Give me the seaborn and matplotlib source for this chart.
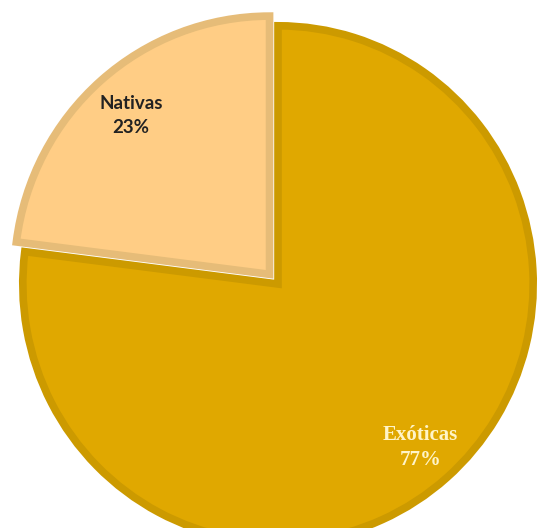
import matplotlib
matplotlib.use("Agg")
import matplotlib.pyplot as plt
import numpy as np
import seaborn as sns

# Share of species by origin
categories = ["Nativas", "Exóticas"]
shares = [23, 77]
fill_colors = ["#FFCD85", "#E0A800"]
edge_colors = ["#E6BC78", "#CC9A00"]
label_colors = ["#222222", "#FFF4C8"]
label_fonts = [["Lato", "DejaVu Sans"], ["Liberation Serif", "DejaVu Serif"]]
label_sizes = [13.5, 15]
label_spacing = [1.45, 1.3]
label_dist = [0.82, 0.845]

sns.set_theme(style="white")

fig = plt.figure(figsize=(5.39, 5.28), dpi=100)
ax = fig.add_axes([0, 0, 1, 1])

labels = [f"{c}\n{s}%" for c, s in zip(categories, shares)]
wedges, texts = ax.pie(
    shares,
    labels=labels,
    colors=fill_colors,
    startangle=90,
    counterclock=True,
    explode=[0.05, 0],
    labeldistance=0.85,
    radius=1.0,
    wedgeprops=dict(linewidth=5.5),
)

for w, ec in zip(wedges, edge_colors):
    w.set_edgecolor(ec)

for t, w, col, fam, size, ls, d in zip(texts, wedges, label_colors, label_fonts,
                                       label_sizes, label_spacing, label_dist):
    mid = np.deg2rad((w.theta1 + w.theta2) / 2)
    cxw, cyw = w.center
    t.set_position((cxw + d * w.r * np.cos(mid), cyw + d * w.r * np.sin(mid)))
    t.set_ha("center")
    t.set_va("center")
    t.set_color(col)
    t.set_family(fam)
    t.set_fontweight("bold")
    t.set_fontsize(size)
    t.set_linespacing(ls)

# place the pie inside the canvas (slightly taller than wide)
rx_px, ry_px = 255.2, 258.2
cx, cy_top = 278.0, 284.0
W, H = 539.0, 528.0
ax.set_xlim(-cx / rx_px, (W - cx) / rx_px)
ax.set_ylim(-(H - cy_top) / ry_px, cy_top / ry_px)
ax.set_aspect("auto")
ax.axis("off")

fig.savefig("out.png", dpi=100, facecolor="white")
